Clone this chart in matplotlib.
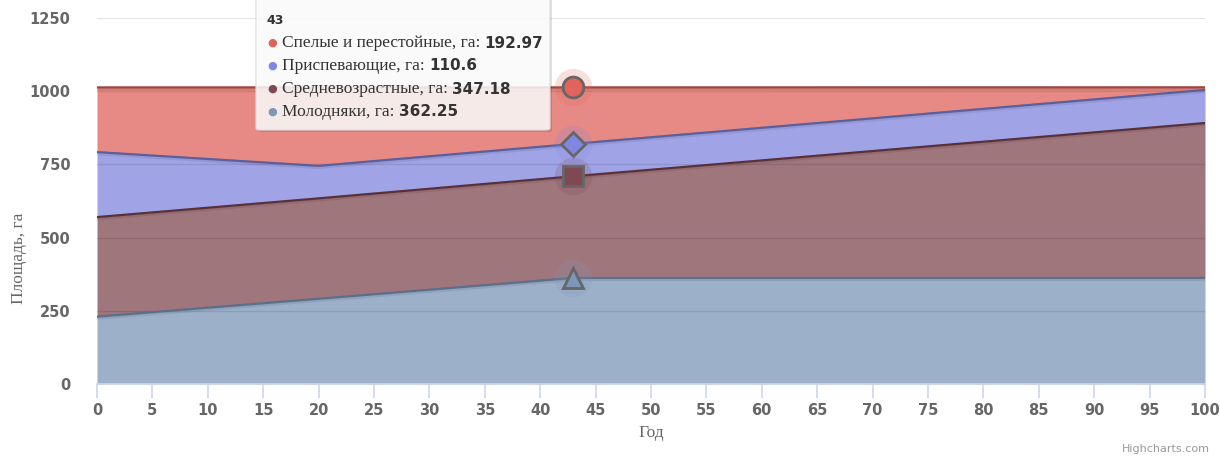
import matplotlib
matplotlib.use("Agg")
import matplotlib.pyplot as plt
from matplotlib.patches import FancyBboxPatch
import numpy as np

# data
years = [0, 20, 43, 100]
young = [230, 291, 362.25, 362.25]        # Молодняки
middle = [340, 343, 347.18, 529]          # Средневозрастные
ripening = [222, 111, 110.6, 113]         # Приспевающие
mature = [221, 268, 192.97, 9]            # Спелые и перестойные

series_names = ["Молодняки, га", "Средневозрастные, га", "Приспевающие, га", "Спелые и перестойные, га"]
series_colors = ["#7C96B8", "#804852", "#8186E0", "#E0635C"]
line_colors = ["#5a6f8c", "#5a3038", "#5a5f9e", "#a0453f"]
markers = ["^", "s", "D", "o"]
hover_x = 43

y_ticks = [0, 250, 500, 750, 1000, 1250]
x_ticks = list(range(0, 101, 5))

W, H = 1220, 458
fig = plt.figure(figsize=(W / 100, H / 100), dpi=100)
ax = fig.add_axes([97 / W, (H - 384) / H, 1108 / W, 366 / H])

values = [young, middle, ripening, mature]
x = np.array(years, dtype=float)
bottom = np.zeros(len(years))
tops = []
for vals, fc, lc in zip(values, series_colors, line_colors):
    top = bottom + np.array(vals)
    ax.fill_between(x, bottom, top, color=fc, alpha=0.75, linewidth=0, zorder=2)
    # soft shadow under the series line
    ax.plot(x, top - 4, color="black", alpha=0.08, linewidth=3, zorder=3, solid_capstyle="butt")
    ax.plot(x, top, color=lc, linewidth=1.6, zorder=4, solid_capstyle="butt")
    tops.append(top)
    bottom = top

# grid on top of semi-transparent fills, as in the reference
for yv in y_ticks[1:]:
    ax.axhline(yv, color="black", alpha=0.1, linewidth=1, zorder=3.5)

# hover markers at x = 43
hi = years.index(hover_x)
for top, fc, m in zip(tops, series_colors, markers):
    yv = top[hi]
    ax.plot(hover_x, yv, marker="o", markersize=27, color=fc, alpha=0.2,
            markeredgewidth=0, zorder=5, clip_on=False)
    ms = {"o": 15, "D": 12, "s": 15, "^": 15}[m]
    ax.plot(hover_x, yv, marker=m, markersize=ms, markerfacecolor=fc, markeredgecolor="#666666",
            markeredgewidth=2, zorder=6, clip_on=False)

ax.set_xlim(0, 100)
ax.set_ylim(0, 1250)
ax.set_xticks(x_ticks)
ax.set_yticks(y_ticks)
for s in ["top", "right", "left"]:
    ax.spines[s].set_visible(False)
ax.spines["bottom"].set_color("#ccd6eb")
ax.spines["bottom"].set_linewidth(1.2)
ax.spines["bottom"].set_zorder(7)
ax.tick_params(axis="x", colors="#ccd6eb", length=10, width=1.2, labelcolor="#666666",
               labelsize=10.5, pad=4)
ax.tick_params(axis="y", length=0, labelcolor="#666666", labelsize=10.5, pad=19)
for lab in ax.get_xticklabels() + ax.get_yticklabels():
    lab.set_fontweight("bold")
ax.set_facecolor("none")

fig.text(19 / W, 200 / H, "Площадь, га", rotation=90, ha="center", va="center",
         family="Liberation Serif", fontsize=12.5, color="#666666")
fig.text(651 / W, (H - 433) / H, "Год", ha="center", va="center",
         family="Liberation Serif", fontsize=12.5, color="#666666")
fig.text(1210 / W, (H - 449) / H, "Highcharts.com", ha="right", va="center",
         fontsize=8, color="#999999")

# tooltip
box_l, box_r, box_t, box_b = 256, 550, -8, 130
shadow = FancyBboxPatch((box_l / W + 2 / W, (H - box_b - 2) / H), (box_r - box_l) / W, (box_b - box_t) / H,
                        boxstyle="round,pad=0,rounding_size=0.004", transform=fig.transFigure,
                        facecolor="black", alpha=0.12, edgecolor="none", zorder=9)
fig.patches.append(shadow)
box = FancyBboxPatch((box_l / W, (H - box_b) / H), (box_r - box_l) / W, (box_b - box_t) / H,
                     boxstyle="round,pad=0,rounding_size=0.004", transform=fig.transFigure,
                     facecolor="white", alpha=0.85, edgecolor="#dddddd", linewidth=1, zorder=10)
fig.patches.append(box)

fig.text(266 / W, (H - 20) / H, str(hover_x), ha="left", va="center", fontsize=9,
         fontweight="bold", color="#333333", zorder=11)
renderer = fig.canvas.get_renderer()
rows = list(zip(series_names, values, series_colors))[::-1]
for k, (name, vals, col) in enumerate(rows):
    ypix = 43 + 23 * k
    fig.text(272 / W, (H - ypix) / H, "●", ha="center", va="center", fontsize=8,
             color=col, zorder=11)
    t = fig.text(282 / W, (H - ypix) / H, name + ": ", ha="left", va="center",
                 family="Liberation Serif", fontsize=12.5, color="#333333", zorder=11)
    bb = t.get_window_extent(renderer)
    v = vals[hi]
    vtxt = f"{v:g}"
    fig.text(bb.x1 / W, (H - ypix) / H, vtxt, ha="left", va="center", fontsize=11,
             fontweight="bold", color="#333333", zorder=11)

fig.savefig("out.png", dpi=100)
